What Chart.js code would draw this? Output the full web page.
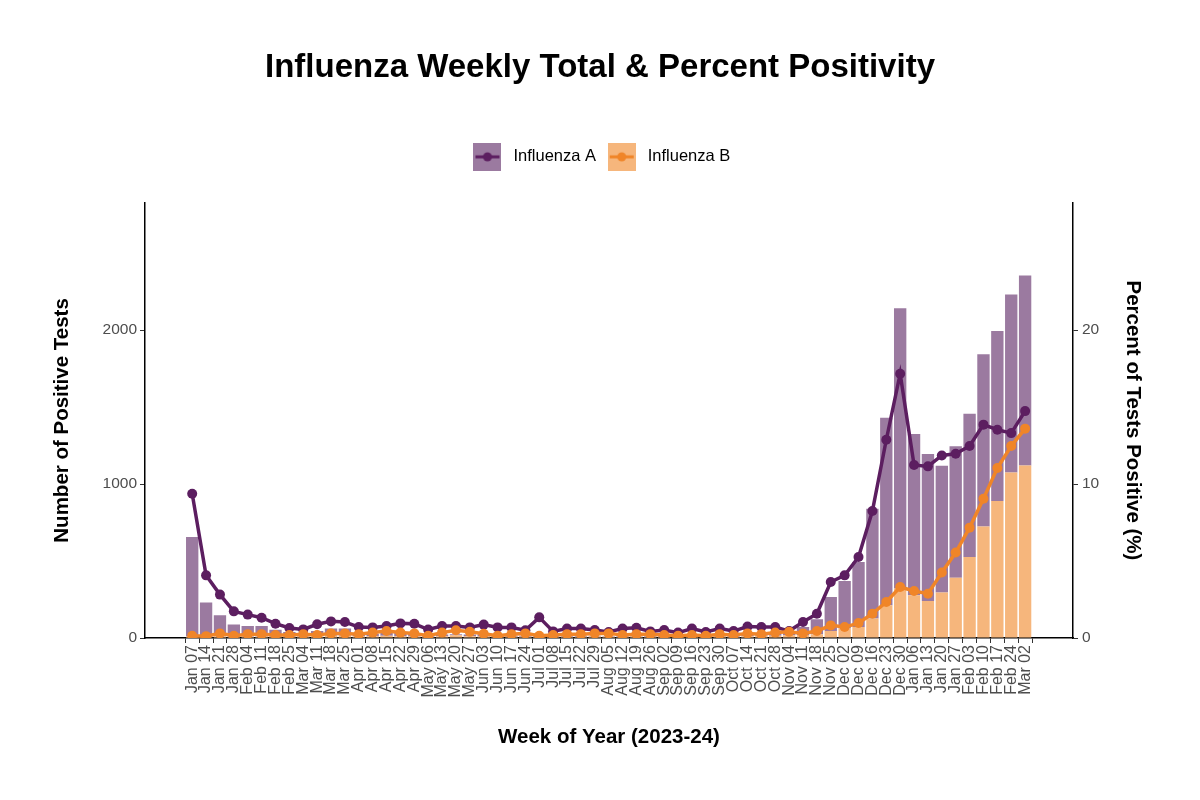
<!DOCTYPE html>
<html>
<head>
<meta charset="utf-8">
<script src="https://cdn.jsdelivr.net/npm/chart.js@4.4.1/dist/chart.umd.min.js"></script>
<style>
  body { margin: 0; background: #fff; }
  canvas { display: block; }
</style>
</head>
<body>
<canvas id="fluChart" width="1200" height="800"></canvas>
<script>
const weeks = [
  'Jan 07','Jan 14','Jan 21','Jan 28','Feb 04','Feb 11','Feb 18','Feb 25','Mar 04','Mar 11',
  'Mar 18','Mar 25','Apr 01','Apr 08','Apr 15','Apr 22','Apr 29','May 06','May 13','May 20',
  'May 27','Jun 03','Jun 10','Jun 17','Jun 24','Jul 01','Jul 08','Jul 15','Jul 22','Jul 29',
  'Aug 05','Aug 12','Aug 19','Aug 26','Sep 02','Sep 09','Sep 16','Sep 23','Sep 30','Oct 07',
  'Oct 14','Oct 21','Oct 28','Nov 04','Nov 11','Nov 18','Nov 25','Dec 02','Dec 09','Dec 16',
  'Dec 23','Dec 30','Jan 06','Jan 13','Jan 20','Jan 27','Feb 03','Feb 10','Feb 17','Feb 24','Mar 02'
];

// positive test counts per week
const fluA = [
  646,222,135,79,68,68,46,31,18,33,
  47,47,20,16,18,20,18,12,10,7,
  10,15,10,7,6,12,6,7,7,4,
  4,10,10,6,6,6,8,8,10,10,
  13,14,15,22,51,96,221,309,423,714,
  1219,1822,1048,955,824,853,931,1119,1104,1156,1234
];
const fluB = [
  10,8,12,8,10,10,8,8,10,12,
  14,14,12,12,14,12,10,8,12,18,
  12,10,8,8,8,8,6,8,8,10,
  8,8,10,8,8,6,8,6,10,8,
  12,14,15,18,20,25,45,61,71,126,
  212,321,277,240,295,392,526,725,890,1076,1121
];

// percent of tests positive
const pctA = [
  9.37,4.07,2.82,1.73,1.52,1.32,0.93,0.65,0.56,0.89,
  1.08,1.04,0.71,0.69,0.78,0.95,0.92,0.55,0.78,0.78,
  0.69,0.87,0.69,0.69,0.5,1.34,0.43,0.61,0.61,0.52,
  0.39,0.61,0.67,0.43,0.52,0.35,0.61,0.39,0.61,0.45,
  0.74,0.71,0.71,0.45,1.04,1.58,3.64,4.07,5.26,8.25,
  12.88,17.17,11.24,11.15,11.86,11.97,12.47,13.86,13.53,13.31,14.74
];
const pctB = [
  0.15,0.12,0.3,0.15,0.25,0.25,0.2,0.2,0.25,0.2,
  0.3,0.3,0.25,0.35,0.45,0.35,0.3,0.15,0.35,0.5,
  0.4,0.28,0.15,0.25,0.3,0.15,0.2,0.25,0.25,0.3,
  0.3,0.2,0.25,0.25,0.2,0.15,0.2,0.15,0.25,0.2,
  0.3,0.25,0.35,0.4,0.3,0.45,0.82,0.71,0.97,1.58,
  2.34,3.31,3.05,2.88,4.25,5.55,7.17,9.05,11.04,12.47,13.6
];

const countTicks = [0, 1000, 2000];
const pctTicks = [0, 10, 20];

const purpleLine = 'rgb(92,30,96)';
const purpleBar = 'rgb(155,122,160)';
const orangeLine = 'rgb(240,133,40)';
const orangeBar = 'rgb(246,182,124)';

function swatch(fill, line) {
  const c = document.createElement('canvas');
  c.width = 28; c.height = 28;
  const g = c.getContext('2d');
  g.fillStyle = fill;
  g.fillRect(0, 0, 28, 28);
  g.strokeStyle = line;
  g.lineWidth = 3;
  g.beginPath(); g.moveTo(2, 14); g.lineTo(26, 14); g.stroke();
  g.fillStyle = line;
  g.beginPath(); g.arc(14, 14, 4.5, 0, Math.PI * 2); g.fill();
  return c;
}
const swA = swatch(purpleBar, purpleLine);
const swB = swatch(orangeBar, orangeLine);

const xy = (arr) => arr.map((v, i) => ({x: i, y: v}));

// leave room between the legend and the plot
const legendGap = {
  id: 'legendGap',
  beforeLayout(chart) {
    const lg = chart.legend;
    if (!lg || lg._gapDone) return;
    const fit = lg.fit;
    lg.fit = function () { fit.call(this); this.height += 27.75; };
    lg._gapDone = true;
  }
};

Chart.defaults.font.family = "'Liberation Sans', Arial, sans-serif";
Chart.defaults.color = '#4d4d4d';

const ctx = document.getElementById('fluChart');
new Chart(ctx, {
  type: 'bar',
  data: {
    datasets: [{
      type: 'line',
      label: 'Influenza A',
      data: xy(pctA),
      yAxisID: 'y1',
      borderColor: purpleLine,
      backgroundColor: purpleLine,
      borderWidth: 3.5,
      pointRadius: 5,
      pointBorderWidth: 0,
      order: 1
    }, {
      type: 'line',
      label: 'Influenza B',
      data: xy(pctB),
      yAxisID: 'y1',
      borderColor: orangeLine,
      backgroundColor: orangeLine,
      borderWidth: 3.5,
      pointRadius: 5,
      pointBorderWidth: 0,
      order: 0
    }, {
      label: 'Influenza B',
      data: xy(fluB),
      yAxisID: 'y',
      stack: 'tests',
      backgroundColor: orangeBar,
      categoryPercentage: 1,
      barPercentage: 0.89,
      order: 3
    }, {
      label: 'Influenza A',
      data: xy(fluA),
      yAxisID: 'y',
      stack: 'tests',
      backgroundColor: purpleBar,
      categoryPercentage: 1,
      barPercentage: 0.89,
      order: 3
    }]
  },
  options: {
    responsive: false,
    animation: false,
    layout: { padding: 0 },
    plugins: {
      tooltip: { enabled: false },
      title: {
        display: true,
        text: 'Influenza Weekly Total & Percent Positivity',
        color: '#000',
        font: { size: 33, weight: 'bold' },
        padding: { top: 48, bottom: 53 }
      },
      legend: {
        labels: {
          usePointStyle: true,
          pointStyleWidth: 35.5,
          padding: 8,
          color: '#111',
          font: { size: 16.5 },
          generateLabels: () => [
            { text: 'Influenza A', pointStyle: swA, datasetIndex: 0 },
            { text: 'Influenza B', pointStyle: swB, datasetIndex: 1 }
          ]
        }
      }
    },
    scales: {
      x: {
        type: 'linear',
        stacked: true,
        min: -3.4,
        max: 63.45,
        offset: false,
        afterBuildTicks: (s) => { s.ticks = weeks.map((w, i) => ({value: i})); },
        afterFit: (s) => { s.height = 162; },
        ticks: {
          autoSkip: false,
          minRotation: 90,
          maxRotation: 90,
          padding: 2,
          color: '#4d4d4d',
          font: { size: 16 },
          callback: (v) => weeks[v]
        },
        grid: { drawOnChartArea: false, tickLength: 5, color: '#333' },
        border: { display: true, color: '#000', width: 1.5 },
        title: {
          display: true,
          text: 'Week of Year (2023-24)',
          color: '#000',
          font: { size: 20.5, weight: 'bold' },
          padding: { top: 0, bottom: 50 }
        }
      },
      y: {
        position: 'left',
        stacked: true,
        min: 0,
        max: 2827,
        afterBuildTicks: (s) => { s.ticks = countTicks.map(v => ({value: v})); },
        afterFit: (s) => { s.width = 145; },
        ticks: { padding: 3, color: '#4d4d4d', font: { size: 15.5 }, callback: (v) => String(v) },
        grid: { drawOnChartArea: false, tickLength: 5, color: '#333' },
        border: { display: true, color: '#000', width: 1.5 },
        title: {
          display: true,
          text: 'Number of Positive Tests',
          color: '#000',
          font: { size: 20.5, weight: 'bold' },
          padding: { top: 50, bottom: 0 }
        }
      },
      y1: {
        position: 'right',
        stacked: false,
        min: 0,
        max: 28.27,
        afterBuildTicks: (s) => { s.ticks = pctTicks.map(v => ({value: v})); },
        afterFit: (s) => { s.width = 127; },
        ticks: { padding: 4, color: '#4d4d4d', font: { size: 15.5 }, callback: (v) => String(v) },
        grid: { drawOnChartArea: false, tickLength: 5, color: '#333' },
        border: { display: true, color: '#000', width: 1.5 },
        title: {
          display: true,
          text: 'Percent of Tests Positive (%)',
          color: '#000',
          font: { size: 20.5, weight: 'bold' },
          padding: { top: 55, bottom: 0 }
        }
      }
    }
  },
  plugins: [legendGap]
});
</script>
</body>
</html>
